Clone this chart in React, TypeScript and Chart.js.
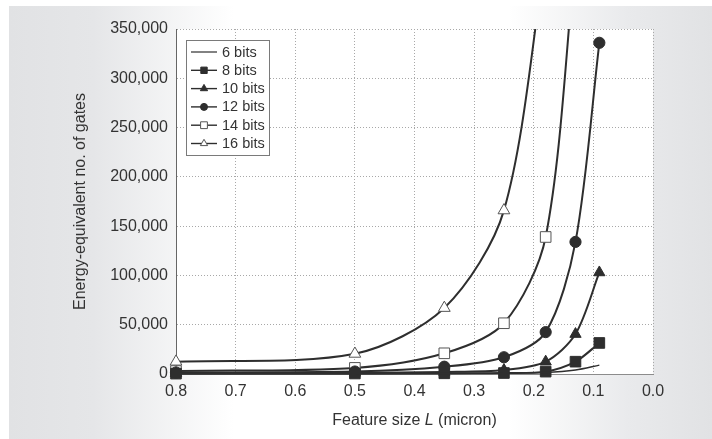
import React, { useEffect, useRef } from 'react';
import { Chart, registerables } from 'chart.js';

Chart.register(...registerables);

// ---- data ----
const featureSizes = [0.8, 0.5, 0.35, 0.25, 0.18, 0.13, 0.09];
const seriesLabels = ['6 bits', '8 bits', '10 bits', '12 bits', '14 bits', '16 bits'];
const bits6 = [200, 300, 500, 800, 1500, 4000, 9000];
const bits8 = [400, 500, 700, 1000, 2400, 12500, 31500];
const bits10 = [800, 1200, 2000, 4000, 12500, 40500, 103000];
const bits12 = [1500, 2500, 7400, 17000, 42500, 134000, 336000];
const bits14 = [3000, 6200, 21000, 51500, 139000, 425000];
const bits16 = [12500, 20500, 67000, 166000, 425000];
const seriesValues = [bits6, bits8, bits10, bits12, bits14, bits16];
const xMin = 0;
const xMax = 0.8;
const xStep = 0.1;
const yMin = 0;
const yMax = 350000;
const yStep = 50000;
const xTitleParts = ['Feature size ', 'L', ' (micron)'];
const yTitle = 'Energy-equivalent no. of gates';

// ---- styles ----
const FONT = '"Liberation Sans", Arial, Helvetica, sans-serif';
const INK = '#333333';
const LINE = '#2e2e2e';
type Marker = { style: string; radius: number; fill: string; border: string; legendSize: number };
const markers: Marker[] = [
  { style: 'none', radius: 0, fill: LINE, border: LINE, legendSize: 0 },
  { style: 'rect', radius: 7.5, fill: LINE, border: LINE, legendSize: 3.2 },
  { style: 'triangle', radius: 6.5, fill: LINE, border: LINE, legendSize: 4.2 },
  { style: 'circle', radius: 5.6, fill: LINE, border: LINE, legendSize: 3.5 },
  { style: 'rect', radius: 7.5, fill: '#ffffff', border: '#555555', legendSize: 3.4 },
  { style: 'triangle', radius: 6.8, fill: '#ffffff', border: '#555555', legendSize: 4.2 },
];

function drawMarker(ctx: CanvasRenderingContext2D, m: Marker, x: number, y: number, s: number) {
  if (m.style === 'none') return;
  ctx.save();
  ctx.fillStyle = m.fill;
  ctx.strokeStyle = m.border;
  ctx.lineWidth = 1;
  ctx.beginPath();
  if (m.style === 'rect') {
    ctx.rect(x - s, y - s, 2 * s, 2 * s);
  } else if (m.style === 'circle') {
    ctx.arc(x, y, s, 0, Math.PI * 2);
  } else if (m.style === 'triangle') {
    ctx.moveTo(x, y - s);
    ctx.lineTo(x + s * 0.866, y + s * 0.5);
    ctx.lineTo(x - s * 0.866, y + s * 0.5);
    ctx.closePath();
  }
  ctx.fill();
  ctx.stroke();
  ctx.restore();
}

const plotBgPlugin = {
  id: 'plotBg',
  beforeDraw(chart: any) {
    const { ctx, chartArea: a } = chart;
    ctx.save();
    ctx.fillStyle = '#ffffff';
    ctx.fillRect(a.left, a.top, a.right - a.left, a.bottom - a.top);
    ctx.restore();
  },
};

const titlesPlugin = {
  id: 'axisTitles',
  afterDraw(chart: any) {
    const { ctx, chartArea: a } = chart;
    ctx.save();
    ctx.fillStyle = INK;
    ctx.textBaseline = 'middle';
    // y title
    ctx.save();
    ctx.translate(80.5, (a.top + a.bottom) / 2);
    ctx.rotate(-Math.PI / 2);
    ctx.textAlign = 'center';
    ctx.font = `16px ${FONT}`;
    ctx.fillText(yTitle, 0, 0);
    ctx.restore();
    // x title with italic L
    const fonts = [`16px ${FONT}`, `italic 16px ${FONT}`, `16px ${FONT}`];
    let total = 0;
    const widths = xTitleParts.map((p, i) => {
      ctx.font = fonts[i];
      const w = ctx.measureText(p).width;
      total += w;
      return w;
    });
    let x = (a.left + a.right) / 2 - total / 2;
    ctx.textAlign = 'left';
    xTitleParts.forEach((p, i) => {
      ctx.font = fonts[i];
      ctx.fillText(p, x, 421);
      x += widths[i];
    });
    ctx.restore();
  },
};

const legendPlugin = {
  id: 'boxLegend',
  afterDatasetsDraw(chart: any) {
    const { ctx } = chart;
    const bx = 186.5, by = 40.5, bw = 83, bh = 115;
    ctx.save();
    ctx.fillStyle = '#ffffff';
    ctx.fillRect(bx, by, bw, bh);
    ctx.strokeStyle = '#7a7a7a';
    ctx.lineWidth = 1;
    ctx.strokeRect(bx, by, bw, bh);
    ctx.font = `14.5px ${FONT}`;
    ctx.textBaseline = 'middle';
    ctx.textAlign = 'left';
    seriesLabels.forEach((label, i) => {
      const y = 52 + i * 18.3;
      ctx.strokeStyle = LINE;
      ctx.lineWidth = i === 0 ? 1.2 : 1.4;
      ctx.beginPath();
      ctx.moveTo(191, y);
      ctx.lineTo(217, y);
      ctx.stroke();
      drawMarker(ctx, markers[i], 204, y, markers[i].legendSize);
      ctx.fillStyle = INK;
      ctx.fillText(label, 222, y + 0.5);
    });
    ctx.restore();
  },
};

export default function App() {
  const ref = useRef<HTMLCanvasElement | null>(null);

  useEffect(() => {
    if (!ref.current) return;
    Chart.defaults.font.family = FONT;
    const datasets = seriesValues.map((vals, i) => ({
      label: seriesLabels[i],
      data: vals.map((v, k) => ({ x: featureSizes[k], y: v })),
      borderColor: LINE,
      borderWidth: i === 0 ? 1.4 : 2,
      pointStyle: markers[i].style === 'none' ? 'circle' : markers[i].style,
      pointRadius: markers[i].radius,
      pointHoverRadius: markers[i].radius,
      pointBackgroundColor: markers[i].fill,
      pointBorderColor: markers[i].border,
      pointBorderWidth: 1,
      tension: 0.3,
      fill: false,
      clip: { left: 12, right: 12, top: 0, bottom: 12 },
    }));

    const chart = new Chart(ref.current, {
      type: 'line',
      data: { datasets },
      options: {
        animation: false,
        responsive: false,
        maintainAspectRatio: false,
        layout: { padding: { left: 0, right: 59, top: 29, bottom: 0 } },
        plugins: { legend: { display: false }, tooltip: { enabled: false } },
        scales: {
          x: {
            type: 'linear',
            min: xMin,
            max: xMax,
            reverse: true,
            afterFit: (s: any) => { s.height = 65; },
            ticks: {
              stepSize: xStep,
              color: INK,
              font: { size: 16, family: FONT },
              padding: 8,
              maxRotation: 0,
              callback: (v: any) => Number(v).toFixed(1),
            },
            grid: { color: '#a8a8a8', lineWidth: 1, drawTicks: false },
            border: { color: '#8c8c8c', width: 1, dash: [1, 2] },
            title: { display: false },
          },
          y: {
            type: 'linear',
            min: yMin,
            max: yMax,
            afterFit: (s: any) => { s.width = 176; },
            ticks: {
              stepSize: yStep,
              color: INK,
              font: { size: 16, family: FONT },
              padding: 8,
              callback: (v: any) => Number(v).toLocaleString('en-US'),
            },
            grid: { color: '#a8a8a8', lineWidth: 1, drawTicks: false },
            border: { color: '#666666', width: 1, dash: [1, 2] },
            title: { display: false },
          },
        },
      },
      plugins: [plotBgPlugin, legendPlugin, titlesPlugin],
    } as any);
    return () => chart.destroy();
  }, []);

  return (
    <div style={{ position: 'fixed', left: 0, top: 0, width: 712, height: 439, background: '#ffffff', overflow: 'hidden' }}>
      <div
        style={{
          position: 'absolute', left: 9, top: 6, right: 0, bottom: 0,
          background: 'linear-gradient(to right, #e1e2e4 0%, #e5e6e8 12%, #ffffff 32%, #ffffff 71%, #e9eaec 88%, #e1e2e4 100%)',
        }}
      />
      <canvas ref={ref} width={712} height={439} style={{ position: 'absolute', left: 0, top: 0, width: 712, height: 439 }} />
    </div>
  );
}
